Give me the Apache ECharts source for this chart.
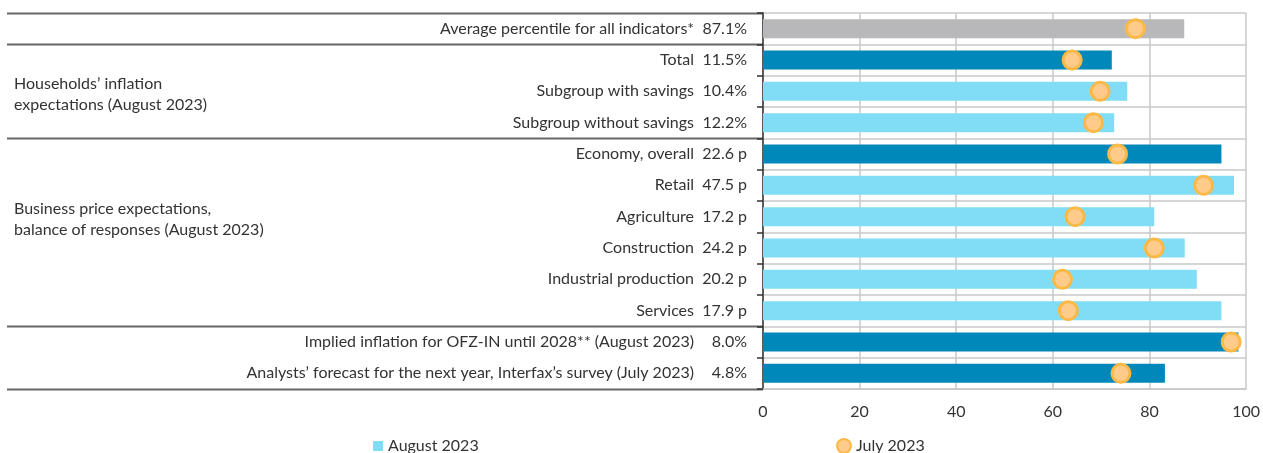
<!DOCTYPE html>
<html>
<head>
<meta charset="utf-8">
<script src="https://cdn.jsdelivr.net/npm/echarts@6/dist/echarts.min.js"></script>
<style>
html,body{margin:0;padding:0;background:#fff;}
#chart{width:1263px;height:453px;}
</style>
</head>
<body>
<div id="chart"></div>
<script>
// indicators, top to bottom
var names = ['Average percentile for all indicators*', 'Total', 'Subgroup with savings', 'Subgroup without savings',
  'Economy, overall', 'Retail', 'Agriculture', 'Construction', 'Industrial production', 'Services',
  'Implied inflation for OFZ-IN until 2028** (August 2023)', 'Analysts’ forecast for the next year, Interfax’s survey (July 2023)'];
var levels = ['87.1%', '11.5%', '10.4%', '12.2%', '22.6 p', '47.5 p', '17.2 p', '24.2 p', '20.2 p', '17.9 p', '8.0%', '4.8%'];
// percentile, August 2023 (bars)
var august = [87.2, 72.2, 75.4, 72.7, 94.9, 97.5, 81.0, 87.3, 89.8, 94.9, 98.4, 83.2];
// percentile, July 2023 (dots)
var july = [77.1, 64.0, 69.8, 68.4, 73.4, 91.2, 64.6, 81.0, 62.0, 63.2, 96.9, 74.1];
var kinds = ['avg', 'main', 'sub', 'sub', 'main', 'sub', 'sub', 'sub', 'sub', 'sub', 'main', 'main'];
var xTicks = [0, 20, 40, 60, 80, 100];

// left side groups
var groupBreaks = [0, 1, 4, 10, 12];
var groupLabels = [
  {text: 'Households’ inflation\nexpectations (August 2023)', row: 2, dy: 3},
  {text: 'Business price expectations,\nbalance of responses (August 2023)', row: 6, dy: 3}
];

var colors = {avg: '#b8b8ba', main: '#0088bb', sub: '#80ddf5'};
var font = 'Lato, "Liberation Sans", sans-serif';
var fs = 16;

var chart = echarts.init(document.getElementById('chart'));

var option = {
  animation: false,
  textStyle: {fontFamily: font},
  grid: {left: 763, right: 13, top: 13, bottom: 64},
  legend: [{
    data: ['August 2023'],
    left: 373, top: 438, padding: 0,
    icon: 'rect', itemWidth: 10, itemHeight: 10,
    textStyle: {fontSize: fs, color: '#333', fontFamily: font}
  }, {
    data: ['July 2023'],
    left: 836, top: 438, padding: 0,
    itemWidth: 14, itemHeight: 14,
    textStyle: {fontSize: fs, color: '#333', fontFamily: font}
  }],
  xAxis: {
    type: 'value', min: xTicks[0], max: xTicks[xTicks.length - 1], interval: 20,
    axisLine: {show: true, lineStyle: {color: '#c8c8c8', width: 1.5}},
    axisTick: {show: false},
    splitLine: {show: true, lineStyle: {color: '#c8c8c8', width: 1.5}},
    axisLabel: {fontSize: fs, color: '#333', margin: 15, fontFamily: font}
  },
  yAxis: {
    type: 'category', inverse: true, data: names,
    axisLine: {show: true, lineStyle: {color: '#333', width: 1.5}},
    axisTick: {show: true, length: 6, lineStyle: {color: '#333', width: 1.5}},
    splitLine: {show: true, lineStyle: {color: '#c8c8c8', width: 1.5}},
    axisLabel: {
      margin: 16,
      formatter: function (v, i) {
        return '{n|' + v + '}{v|' + levels[i] + '}';
      },
      rich: {
        n: {fontSize: fs, color: '#333', fontFamily: font},
        v: {fontSize: fs, color: '#333', fontFamily: font, width: 53, align: 'right'}
      }
    }
  },
  series: [{
    name: 'August 2023',
    type: 'bar',
    barWidth: 19,
    itemStyle: {color: colors.sub},
    data: august.map(function (v, i) {
      return {value: v, itemStyle: {color: colors[kinds[i]]}};
    }),
    z: 2
  }, {
    name: 'July 2023',
    type: 'scatter',
    symbol: 'circle',
    symbolSize: 18,
    itemStyle: {color: '#ffcb8a', borderColor: '#fdb945', borderWidth: 3, opacity: 1},
    data: july,
    z: 3
  }]
};
chart.setOption(option);

// group separators and group titles on the left
function rowCenter(i) { return chart.convertToPixel({yAxisIndex: 0}, names[i]); }
var band = rowCenter(1) - rowCenter(0);
var axisX = chart.convertToPixel({xAxisIndex: 0}, 0);
var graphics = [];
groupBreaks.forEach(function (b) {
  var y = Math.round(rowCenter(0) - band / 2 + b * band) + 0.5;
  graphics.push({
    type: 'line', silent: true,
    shape: {x1: 7, y1: y, x2: axisX, y2: y},
    style: {stroke: '#666', lineWidth: 2}
  });
});
groupLabels.forEach(function (g) {
  graphics.push({
    type: 'text', silent: true,
    x: 14, y: rowCenter(g.row) + g.dy,
    style: {text: g.text, font: fs + 'px ' + font, fill: '#333', verticalAlign: 'middle', lineHeight: 21}
  });
});
chart.setOption({graphic: graphics});
</script>
</body>
</html>
